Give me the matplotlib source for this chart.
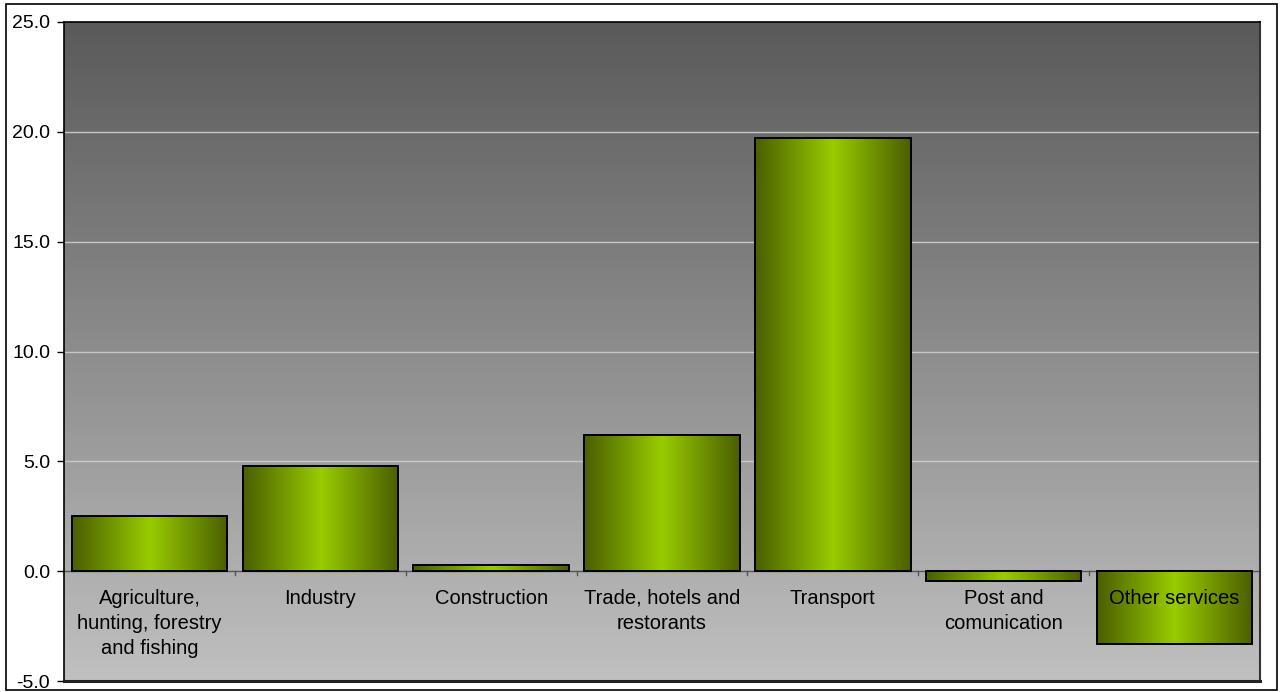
import numpy as np
import matplotlib
matplotlib.use("Agg")
import matplotlib.pyplot as plt
from matplotlib.colors import LinearSegmentedColormap
from matplotlib.patches import Rectangle

plt.rcParams['font.family'] = ['Liberation Sans', 'DejaVu Sans']

# data
categories = ["Agriculture,\nhunting, forestry\nand fishing", "Industry", "Construction",
              "Trade, hotels and\nrestorants", "Transport", "Post and\ncomunication",
              "Other services"]
values = [2.5, 4.8, 0.3, 6.2, 19.7, -0.45, -3.3]
yticks = [-5, 0, 5, 10, 15, 20, 25]

fig = plt.figure(figsize=(12.83, 6.92), dpi=100)
ax = fig.add_axes([64 / 1283, 11 / 692, 1196 / 1283, 659 / 692])
ax.set_xlim(-0.5, len(categories) - 0.5)
ax.set_ylim(-5, 25)

# grey gradient background (dark at top, light at bottom)
bg = LinearSegmentedColormap.from_list("bg", ["#c0c0c0", "#5a5a5a"])
grad = np.linspace(0, 1, 256).reshape(-1, 1)
ax.imshow(grad, cmap=bg, aspect="auto", origin="lower",
          extent=[-0.5, len(categories) - 0.5, -5, 25], zorder=0)

for y in [5, 10, 15, 20]:
    ax.axhline(y, color="#c8c8c8", lw=1, zorder=1)
ax.axhline(0, color="#555555", lw=1, zorder=1)

# green bars, horizontal gradient
green = LinearSegmentedColormap.from_list("gr", ["#4a5e00", "#99cc00", "#4a5e00"])
hgrad = np.linspace(0, 1, 256).reshape(1, -1)
x = np.arange(len(categories))
bars = ax.bar(x, values, width=0.91, facecolor="none", edgecolor="black", lw=1.4, zorder=3)
for b in bars:
    x0, y0 = b.get_x(), b.get_y()
    w, h = b.get_width(), b.get_height()
    im = ax.imshow(hgrad, cmap=green, aspect="auto",
                   extent=[x0, x0 + w, min(y0, y0 + h), max(y0, y0 + h)], zorder=2)
    im.set_clip_path(b)

# category labels under the zero line
for i, lab in enumerate(categories):
    ax.text(i, -0.8, lab, ha="center", va="top", fontsize=14.5, linespacing=1.42, zorder=4)

# boundary ticks on the zero line
for b in np.arange(0.5, len(categories) - 0.5, 1):
    ax.plot([b, b], [0, -0.18], color="#555555", lw=1, zorder=1)

ax.set_xticks([])
ax.set_yticks(yticks)
ax.set_yticklabels([f"{v:.1f}" for v in yticks], fontsize=14)
ax.tick_params(axis="y", length=5, width=1, pad=5)
for s in ["left", "top"]:
    ax.spines[s].set_linewidth(1.2)
ax.spines["right"].set_linewidth(1.5)
ax.spines["right"].set_color("#333333")
ax.spines["bottom"].set_linewidth(2.2)
ax.spines["bottom"].set_color("#222222")

# outer chart border
fig.patches.append(Rectangle((6 / 1283, 2 / 692), 1271 / 1283, 686 / 692,
                             transform=fig.transFigure, fill=False,
                             edgecolor="black", lw=1.2))

fig.savefig("out.png", dpi=100)
